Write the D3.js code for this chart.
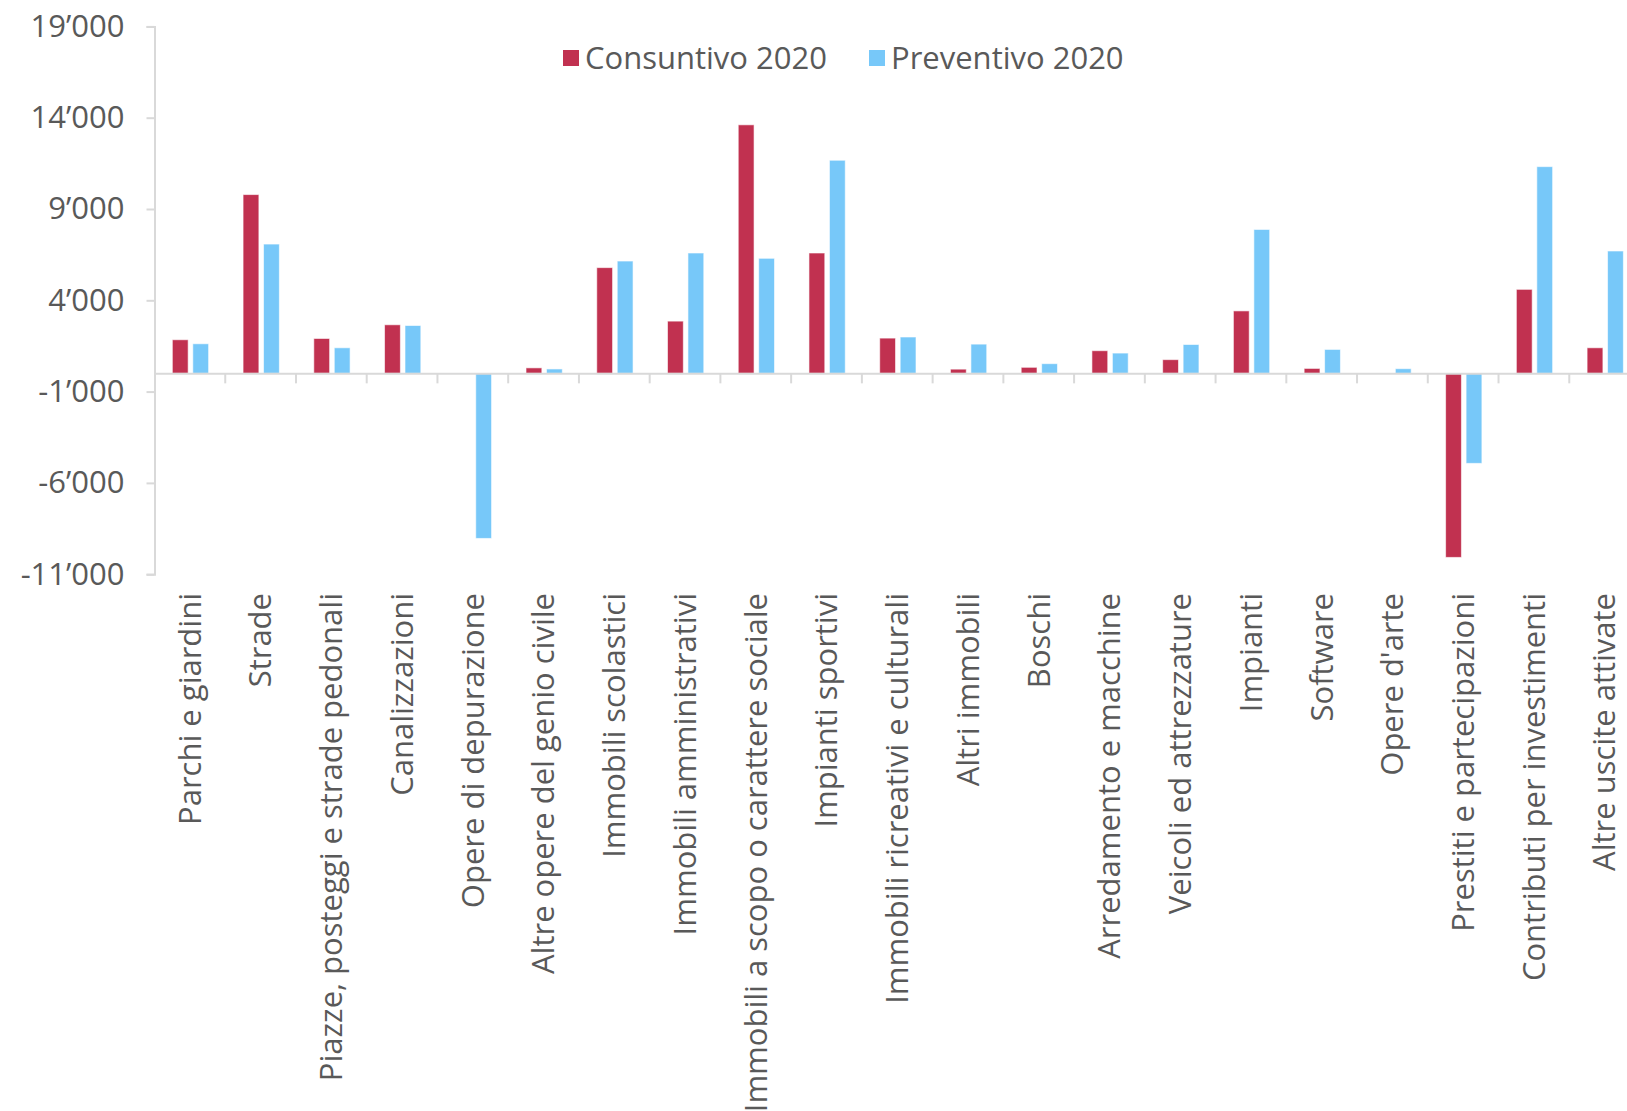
<!DOCTYPE html>
<html><head><meta charset="utf-8">
<script src="https://cdn.jsdelivr.net/npm/d3@7"></script>
<style>
html,body{margin:0;padding:0;background:#fff;}
svg{display:block;font-family:"Open Sans",Lato,sans-serif;}
</style></head>
<body>
<svg id="chart" width="1627" height="1111"></svg>
<script>
const categories = ["Parchi e giardini","Strade","Piazze, posteggi e strade pedonali","Canalizzazioni","Opere di depurazione","Altre opere del genio civile","Immobili scolastici","Immobili amministrativi","Immobili a scopo o carattere sociale","Impianti sportivi","Immobili ricreativi e culturali","Altri immobili","Boschi","Arredamento e macchine","Veicoli ed attrezzature","Impianti","Software","Opere d'arte","Prestiti e partecipazioni","Contributi per investimenti","Altre uscite attivate"];
const consuntivo2020 = [1840, 9790, 1910, 2660, 0, 300, 5790, 2860, 13610, 6590, 1930, 230, 330, 1240, 750, 3420, 270, 0, -10080, 4600, 1400];
const preventivo2020 = [1620, 7080, 1400, 2620, -9040, 240, 6150, 6590, 6300, 11670, 1990, 1600, 530, 1110, 1580, 7880, 1310, 255, -4930, 11320, 6700];
const seriesNames = ["Consuntivo 2020", "Preventivo 2020"];
const seriesColors = ["#C13150", "#77C8F9"];
const yTicks = [-11000, -6000, -1000, 4000, 9000, 14000, 19000];

const svg = d3.select("#chart");
const textColor = "#595959";
const axisColor = "#D9D9D9";
const fontSize = 31;
const fontFam = "'Open Sans', Lato, sans-serif";

const x0 = 154.5, x1 = 1640;
const x = d3.scaleBand().domain(categories).range([x0, x1]).padding(0);
const bw = x.bandwidth();
const xs = d3.scaleBand().domain([0, 1]).range([bw * 0.252, bw * 0.765]).paddingInner(0.227).paddingOuter(0);
const y = d3.scaleLinear().domain([-11000, 19000]).range([574.2, 26.4]);

const fmt = v => d3.format(",")(v).replace(/,/g, "\u2019").replace("\u2212", "-");

// Y axis
const yAxis = d3.axisLeft(y).tickValues(yTicks).tickSize(8).tickPadding(22).tickFormat(fmt);
const gy = svg.append("g").attr("transform", `translate(${x0},0)`).call(yAxis);
gy.select(".domain").attr("stroke", axisColor).attr("stroke-width", 2);
gy.selectAll(".tick line").attr("stroke", axisColor).attr("stroke-width", 2);
gy.selectAll(".tick text").attr("fill", textColor).style("font-size", fontSize + "px").style("font-family", fontFam);

// bars
const data = categories.map((c, i) => ({c, vals: [consuntivo2020[i], preventivo2020[i]]}));
const groups = svg.append("g").selectAll("g").data(data).join("g")
  .attr("transform", d => `translate(${x(d.c)},0)`);
groups.selectAll("rect").data(d => d.vals.map((v, k) => ({v, k}))).join("rect")
  .filter(d => d.v !== 0)
  .attr("x", d => xs(d.k))
  .attr("width", xs.bandwidth())
  .attr("y", d => Math.min(y(d.v), y(0)))
  .attr("height", d => Math.abs(y(d.v) - y(0)))
  .attr("fill", d => seriesColors[d.k])
  .attr("stroke", "#fff").attr("stroke-width", 1).attr("stroke-opacity", 0.6);

// X axis at zero
const xAxis = d3.axisBottom(x).tickSize(0).tickFormat("");
const gx = svg.append("g").attr("transform", `translate(0,${y(0)})`).call(xAxis);
gx.select(".domain").attr("stroke", axisColor).attr("stroke-width", 2);
gx.selectAll(".tick").remove();
gx.selectAll("line.sep").data(categories.slice(1)).join("line").attr("class", "sep")
  .attr("x1", d => x(d)).attr("x2", d => x(d)).attr("y1", 0).attr("y2", 10)
  .attr("stroke", axisColor).attr("stroke-width", 2);

// X labels
svg.append("g").selectAll("text").data(categories).join("text")
  .attr("transform", d => `translate(${x(d) + bw / 2},593) rotate(-90)`)
  .attr("text-anchor", "end").attr("dy", "0.35em")
  .attr("fill", textColor).style("font-size", fontSize + "px").style("font-family", fontFam)
  .text(d => d);

// Legend
const legendX = [563, 869];
const lg = svg.append("g");
seriesNames.forEach((n, i) => {
  lg.append("rect").attr("x", legendX[i]).attr("y", 50).attr("width", 16).attr("height", 16).attr("fill", seriesColors[i]);
  lg.append("text").attr("x", legendX[i] + 22).attr("y", 58).attr("dy", "0.35em")
    .attr("fill", textColor).style("font-size", fontSize + "px").style("font-family", fontFam).text(n);
});
</script>
</body></html>
